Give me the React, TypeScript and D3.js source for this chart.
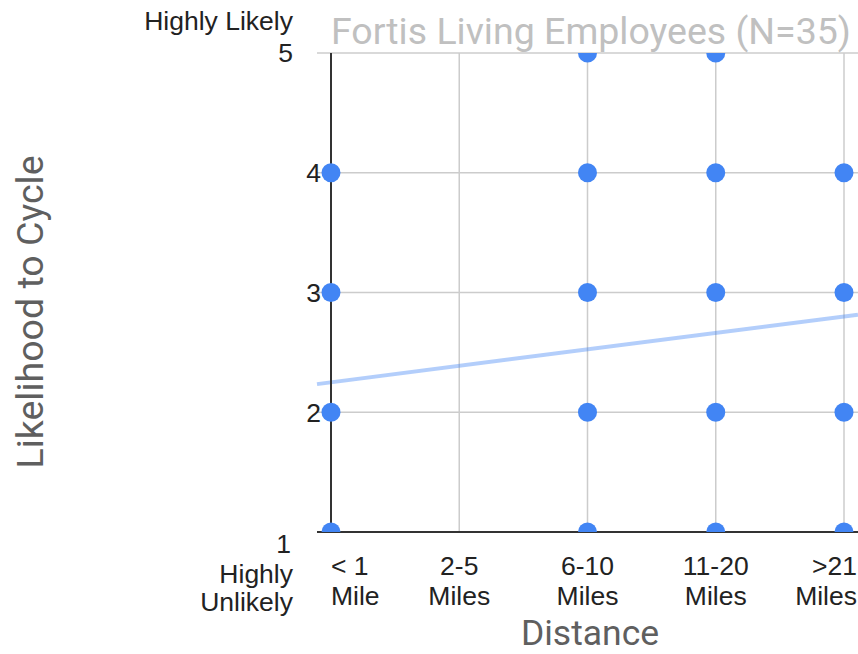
import React from 'react'
import * as d3 from 'd3'

// distance categories (x = 1..5) and their two-line labels
const distanceLabels = [
  ['< 1', 'Mile'],
  ['2-5', 'Miles'],
  ['6-10', 'Miles'],
  ['11-20', 'Miles'],
  ['>21', 'Miles'],
]

// responses seen on the chart: [distance index, likelihood]
const points: [number, number][] = [
  [1, 1], [1, 2], [1, 3], [1, 4],
  [3, 1], [3, 2], [3, 3], [3, 4], [3, 5],
  [4, 1], [4, 2], [4, 3], [4, 4], [4, 5],
  [5, 1], [5, 2], [5, 3], [5, 4],
]

const yTicks = [1, 2, 3, 4, 5]

// linear trendline (value at x=1 and x=5)
const trendAt1 = 2.25
const trendAt5 = 2.8

const W = 858
const H = 654

const App = () => {
  const x = d3.scaleLinear().domain([1, 5]).range([331, 844])
  const y = d3.scaleLinear().domain([1, 5]).range([532, 53])

  const areaLeft = 317
  const areaRight = 858
  const top = y(5)
  const bottom = y(1)

  const slope = (trendAt5 - trendAt1) / 4
  const xMin = x.invert(areaLeft)
  const xMax = x.invert(areaRight)
  const trend = d3.line<number>()
    .x(d => x(d))
    .y(d => y(trendAt1 + slope * (d - 1)))

  const tickFont = '"Liberation Sans", Arial, sans-serif'
  const titleFont = 'Roboto, "Noto Sans", sans-serif'

  return (
    <svg width={W} height={H} style={{ position: 'absolute', left: 0, top: 0, background: '#fff' }}>
      <defs>
        <clipPath id="plot">
          <rect x={areaLeft} y={top} width={areaRight - areaLeft} height={bottom - top} />
        </clipPath>
      </defs>

      {/* gridlines */}
      {yTicks.map(t => (
        <line key={'h' + t} x1={areaLeft} x2={areaRight} y1={y(t)} y2={y(t)} stroke="#cccccc" strokeWidth={1.5} />
      ))}
      {distanceLabels.map((_, i) => (
        <line key={'v' + i} x1={x(i + 1)} x2={x(i + 1)} y1={top} y2={bottom} stroke="#cccccc" strokeWidth={1.5} />
      ))}

      {/* trendline */}
      <path
        d={trend([xMin, xMax]) || ''}
        fill="none"
        stroke="#4285f4"
        strokeOpacity={0.4}
        strokeWidth={4}
      />

      {/* axis baselines */}
      <line x1={x(1)} x2={x(1)} y1={top} y2={bottom} stroke="#333" strokeWidth={2} />
      <line x1={areaLeft} x2={areaRight} y1={bottom} y2={bottom} stroke="#333" strokeWidth={2} />

      {/* points */}
      <g clipPath="url(#plot)">
        {points.map(([px, py], i) => (
          <circle key={i} cx={x(px)} cy={y(py)} r={9.5} fill="#4285f4" />
        ))}
      </g>

      {/* y tick labels */}
      <g fontFamily={tickFont} fontSize={26.5} fill="#222" textAnchor="end">
        {yTicks.filter(t => t > 1 && t < 5).map(t => (
          <text key={t} x={321} y={y(t) + 9.5}>{t}</text>
        ))}
        <text x={293} y={30}>Highly Likely</text>
        <text x={293} y={62}>5</text>
        <text x={291} y={553}>1</text>
        <text x={293} y={583}>Highly</text>
        <text x={293} y={611}>Unlikely</text>
      </g>

      {/* x tick labels */}
      <g fontFamily={tickFont} fontSize={26.5} fill="#222">
        {distanceLabels.map((lines, i) => {
          const cx = x(i + 1)
          let anchor = 'middle'
          let tx = cx
          if (i === 0) { anchor = 'start'; tx = 331 }
          if (i === distanceLabels.length - 1) { anchor = 'end'; tx = 857 }
          return (
            <text key={i} x={tx} textAnchor={anchor}>
              <tspan x={tx} y={575}>{lines[0]}</tspan>
              <tspan x={tx} y={605}>{lines[1]}</tspan>
            </text>
          )
        })}
      </g>

      {/* titles */}
      <text x={331} y={44} fontFamily={titleFont} fontSize={37.5} fill="#c0c0c0">
        Fortis Living Employees (N=35)
      </text>
      <text x={590} y={645} textAnchor="middle" fontFamily={titleFont} fontSize={35.5} fill="#5f5f5f">
        Distance
      </text>
      <text
        transform={`translate(43, ${312}) rotate(-90)`}
        textAnchor="middle"
        fontFamily={titleFont}
        fontSize={37.5}
        fill="#5f5f5f"
      >
        Likelihood to Cycle
      </text>
    </svg>
  )
}

export default App
